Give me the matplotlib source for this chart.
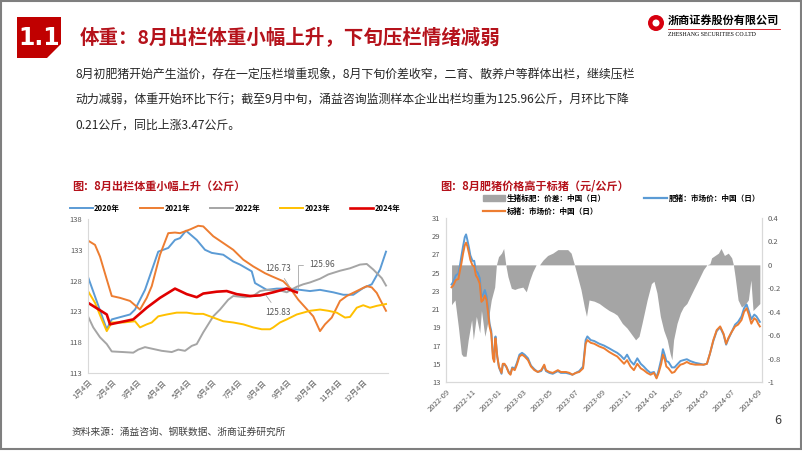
import numpy as np
import matplotlib
matplotlib.use('Agg')
import matplotlib.pyplot as plt
import matplotlib.dates as mdates
from matplotlib.patches import Polygon, Rectangle, Circle, Patch
from matplotlib.lines import Line2D
from matplotlib.ticker import FuncFormatter

plt.rcParams['font.family'] = ['Noto Sans CJK SC', 'DejaVu Sans']

RED = '#B5121B'
TICK_GRAY = '#595959'
AXIS_GRAY = '#D9D9D9'

# ---- left chart: weekly slaughter weight (kg), x = months after Jan 4 ----
month_labels = ['1月4日', '2月4日', '3月4日', '4月4日', '5月4日', '6月4日',
                '7月4日', '8月4日', '9月4日', '10月4日', '11月4日', '12月4日']

w2020_x = [0, 0.75, 0.95, 1.68, 1.88, 2.28, 2.81, 3.21, 3.48, 3.68, 3.92, 4.35, 4.68, 4.95,
           5.41, 5.81, 6.08, 6.55, 6.68, 7.15, 7.55, 8.08, 8.88, 9.28, 9.81, 10.21, 10.61,
           11.01, 11.35, 11.68, 11.92]
w2020_y = [128.6, 120.1, 121.7, 122.5, 123.3, 126.5, 132.7, 133.3, 134.6, 134.9, 136.1, 134.6,
           133.0, 132.5, 132.2, 131.1, 130.6, 129.5, 127.6, 126.5, 126.7, 126.7, 126.3, 126.5,
           126.1, 125.7, 125.7, 126.8, 127.4, 129.8, 132.7]

w2021_x = [0, 0.28, 0.48, 0.75, 0.95, 1.28, 1.68, 2.08, 2.35, 2.55, 2.88, 3.21, 3.48, 3.68,
           4.08, 4.41, 4.61, 5.01, 5.41, 5.81, 6.21, 6.61, 7.08, 7.35, 7.81, 8.08, 8.41, 9.01,
           9.28, 9.48, 9.75, 10.08, 10.35, 10.75, 11.15, 11.35, 11.55, 11.75, 11.92]
w2021_y = [134.5, 133.8, 131.9, 128.2, 125.5, 125.2, 124.7, 123.3, 125.2, 127.1, 132.2, 135.7,
           135.8, 135.7, 136.3, 136.9, 136.8, 135.2, 134.1, 133.0, 131.4, 130.3, 129.2, 128.7,
           127.9, 126.8, 124.9, 122.2, 119.8, 120.9, 122.0, 124.7, 125.5, 126.3, 127.1, 126.9,
           126.0, 124.4, 123.1]

w2022_x = [0, 0.21, 0.48, 0.75, 0.95, 1.41, 1.81, 2.01, 2.28, 2.61, 2.95, 3.35, 3.61, 3.88,
           4.15, 4.35, 4.61, 5.01, 5.28, 5.61, 5.81, 6.28, 6.61, 6.88, 7.15, 7.68, 7.95, 8.35,
           8.61, 8.88, 9.28, 9.61, 10.08, 10.48, 10.88, 11.15, 11.41, 11.75, 11.92]
w2022_y = [122.2, 120.4, 118.8, 117.7, 116.5, 116.4, 116.3, 116.8, 117.2, 116.9, 116.6, 116.4,
           116.8, 116.6, 117.4, 117.7, 119.6, 122.2, 123.3, 124.9, 125.5, 125.3, 125.5, 126.3,
           126.5, 126.4, 126.1, 127.0, 127.4, 127.7, 128.3, 129.0, 129.6, 130.0, 130.6, 130.7,
           129.8, 128.4, 127.2]

w2023_x = [0, 0.28, 0.55, 0.75, 0.95, 1.41, 1.88, 2.08, 2.35, 2.55, 2.81, 3.15, 3.55, 3.95,
           4.28, 4.61, 5.01, 5.41, 5.81, 6.21, 6.61, 6.95, 7.28, 7.41, 7.68, 7.95, 8.35, 8.88,
           9.28, 9.61, 9.95, 10.28, 10.48, 10.75, 11.01, 11.28, 11.55, 11.92]
w2023_y = [126.3, 124.4, 121.7, 119.8, 121.2, 121.2, 121.4, 120.4, 120.9, 121.2, 122.2, 122.5,
           122.8, 122.8, 122.6, 122.6, 122.0, 121.4, 121.2, 120.9, 120.4, 120.1, 120.1, 120.4,
           121.2, 121.7, 122.5, 123.1, 123.3, 123.1, 122.8, 122.0, 122.1, 123.6, 124.0, 123.6,
           123.9, 124.2]

w2024_x = [0, 0.75, 0.88, 1.81, 2.35, 2.88, 3.48, 3.95, 4.35, 4.61, 5.15, 5.55, 5.95, 6.48,
           6.88, 7.41, 7.95, 8.35]
w2024_y = [124.4, 122.5, 120.9, 121.7, 123.6, 125.2, 126.7, 125.8, 125.3, 125.9, 126.2, 126.3,
           125.8, 125.5, 125.6, 126.1, 126.7, 126.1]

# ---- right chart: daily prices (yuan/kg), days after 2022-09-01 ----
price_days = [13, 17, 23, 29, 33, 36, 40, 44, 47, 50, 54, 57, 62, 66, 70, 74, 79, 83, 87, 91,
              95, 99, 102, 106, 110, 113, 115, 116, 120, 124, 130, 133, 137, 141, 147, 151,
              155, 161, 166, 172, 178, 184, 192, 199, 207, 215, 223, 230, 234, 242, 250, 262,
              269, 281, 289, 296, 304, 312, 321, 327, 331, 339, 347, 359, 370, 382, 393, 401,
              409, 417, 424, 432, 440, 448, 456, 463, 471, 479, 487, 493, 498, 504, 508, 512,
              516, 521, 529, 535, 541, 549, 556, 564, 572, 584, 595, 603, 611, 618, 626, 634,
              642, 650, 656, 661, 669, 677, 684, 692, 698, 704, 709, 715, 722, 727, 731, 735]
standard_pig = [23.4, 23.6, 24.2, 24.3, 25.3, 26.0, 27.1, 28.0, 28.3, 27.9, 27.1, 26.4, 25.8,
                25.7, 24.7, 24.4, 23.8, 21.8, 22.0, 22.5, 22.0, 20.4, 19.1, 18.3, 15.6, 15.2,
                17.6, 17.8, 15.8, 14.7, 14.0, 15.0, 15.0, 14.7, 14.0, 13.8, 14.5, 14.3, 14.9,
                15.8, 16.0, 15.8, 15.4, 14.7, 14.3, 14.1, 14.3, 14.9, 14.3, 14.1, 14.0, 14.3,
                14.1, 14.1, 14.0, 13.8, 14.0, 14.1, 14.5, 17.2, 17.6, 17.3, 17.2, 16.9, 16.7,
                16.3, 16.0, 15.8, 15.4, 15.0, 15.4, 14.7, 14.3, 15.0, 14.5, 14.3, 14.0, 13.8,
                14.0, 13.4, 14.0, 15.0, 16.0, 15.5, 14.7, 14.5, 14.0, 14.1, 14.5, 14.9, 15.0,
                15.2, 15.0, 14.9, 14.9, 14.9, 15.0, 16.1, 17.6, 18.7, 19.1, 18.3, 17.2, 17.8,
                18.5, 19.1, 19.3, 19.8, 20.7, 21.1, 20.4, 19.4, 20.0, 19.8, 19.4, 19.1]
fat_pig = [23.7, 24.0, 24.7, 24.9, 25.9, 26.8, 27.9, 28.9, 29.2, 28.6, 27.7, 26.9, 26.3, 26.3,
           25.2, 25.0, 24.4, 22.3, 22.6, 23.1, 22.4, 20.8, 19.4, 18.6, 15.9, 15.4, 17.8, 18.0,
           15.8, 14.6, 13.9, 14.9, 14.9, 14.7, 14.1, 13.9, 14.6, 14.5, 15.1, 16.0, 16.2, 16.0,
           15.6, 14.8, 14.4, 14.1, 14.2, 14.8, 14.2, 14.0, 13.9, 14.2, 14.0, 14.0, 13.9, 13.8,
           14.0, 14.2, 14.7, 17.6, 18.0, 17.6, 17.5, 17.2, 17.0, 16.7, 16.4, 16.2, 15.9, 15.5,
           16.0, 15.3, 14.9, 15.6, 15.0, 14.7, 14.3, 14.0, 14.1, 13.5, 14.3, 15.5, 16.6, 16.0,
           15.3, 15.2, 14.6, 14.6, 14.9, 15.3, 15.4, 15.5, 15.3, 15.1, 15.0, 14.9, 15.0, 16.1,
           17.5, 18.6, 19.0, 18.2, 17.1, 17.7, 18.5, 19.3, 19.6, 20.2, 21.1, 21.5, 20.8, 19.9,
           20.4, 20.2, 19.9, 19.6]

spread_days = [13, 21, 29, 36, 40, 47, 52, 60, 64, 71, 79, 83, 91, 99, 106, 114, 118, 123,
               130, 135, 140, 145, 153, 161, 168, 180, 188, 196, 203, 211, 219, 227, 238, 250,
               262, 273, 285, 293, 300, 308, 316, 324, 329, 335, 347, 359, 370, 382, 393, 401,
               413, 424, 436, 444, 452, 459, 471, 481, 487, 494, 502, 510, 518, 525, 529, 533,
               541, 549, 556, 564, 572, 580, 587, 595, 603, 611, 618, 622, 630, 638, 644, 652,
               661, 669, 673, 677, 684, 692, 700, 708, 714, 719, 727, 735]
spread = [-0.34, -0.30, -0.53, -0.76, -0.78, -0.78, -0.64, -0.47, -0.64, -0.44, -0.58, -0.39,
          -0.61, -0.47, -0.30, -0.19, 0.0, 0.07, 0.10, 0.14, 0.0, -0.10, -0.20, -0.21, -0.20,
          -0.19, -0.23, -0.13, -0.06, 0.0, 0.0, 0.04, 0.08, 0.10, 0.13, 0.13, 0.13, 0.10,
          0.01, -0.10, -0.21, -0.36, -0.44, -0.30, -0.31, -0.33, -0.36, -0.39, -0.41, -0.43,
          -0.50, -0.54, -0.60, -0.64, -0.61, -0.50, -0.30, -0.16, -0.14, -0.24, -0.44, -0.56,
          -0.64, -0.76, -0.81, -0.64, -0.50, -0.41, -0.36, -0.33, -0.27, -0.21, -0.16, -0.10,
          -0.04, 0.0, 0.01, 0.06, 0.08, 0.10, 0.14, 0.08, 0.10, 0.06, 0.0, -0.10, -0.30,
          -0.36, -0.34, -0.30, -0.13, -0.39, -0.36, -0.33]

body_lines = ['8月初肥猪开始产生溢价，存在一定压栏增重现象，8月下旬价差收窄，二育、散养户等群体出栏，继续压栏',
              '动力减弱，体重开始环比下行；截至9月中旬，涌益咨询监测样本企业出栏均重为125.96公斤，月环比下降',
              '0.21公斤，同比上涨3.47公斤。']

W, H = 802, 451
fig = plt.figure(figsize=(W / 100, H / 100), dpi=100)

# page overlay in pixel coordinates
page = fig.add_axes([0, 0, 1, 1])
page.set_xlim(0, W)
page.set_ylim(H, 0)
page.axis('off')
page.add_patch(Rectangle((1, 1), W - 2, H - 3, fill=False, ec='#7F7F7F', lw=1.5))
page.add_patch(Polygon([(17, 17), (61, 17), (61, 44), (47, 58), (17, 58)], closed=True,
                       fc='#C00000', ec='none'))
page.text(39, 38, '1.1', color='white', fontsize=17, fontweight='bold', ha='center', va='center',
          family='DejaVu Sans')
page.text(80, 37, '体重：8月出栏体重小幅上升，下旬压栏情绪减弱', color=RED, fontsize=14,
          fontweight='bold', ha='left', va='center')
# logo
page.add_patch(Circle((656, 23), 8, fc='#D7000F', ec='none'))
page.add_patch(Circle((656, 23), 3.5, fc='white', ec='none'))
page.text(668, 20, '浙商证券股份有限公司', fontsize=8, fontweight='bold', ha='left', va='center')
page.plot([668, 780], [29, 29], color='#D7000F', lw=0.6)
page.text(668, 34, 'ZHESHANG SECURITIES CO.LTD', fontsize=4.2, ha='left', va='center',
          family='Liberation Serif')

for i, line in enumerate(body_lines):
    page.text(75, 75 + 25 * i, line, fontsize=8.6, color='#262626', ha='left', va='center')

page.text(72, 186, '图：8月出栏体重小幅上升（公斤）', color=RED, fontsize=8, fontweight='bold',
          ha='left', va='center')
page.text(440, 186, '图：8月肥猪价格高于标猪（元/公斤）', color=RED, fontsize=8, fontweight='bold',
          ha='left', va='center')
page.text(72, 432, '资料来源：涌益咨询、钢联数据、浙商证券研究所', fontsize=7, color='#404040',
          ha='left', va='center')
page.text(778, 421, '6', fontsize=9, color='#404040', ha='center', va='center')

# ---- left chart ----
ax = fig.add_axes([88 / W, 1 - 373 / H, 300 / W, 154 / H])
ax.plot(w2020_x, w2020_y, color='#5B9BD5', lw=1.4, label='2020年')
ax.plot(w2021_x, w2021_y, color='#ED7D31', lw=1.4, label='2021年')
ax.plot(w2022_x, w2022_y, color='#A5A5A5', lw=1.4, label='2022年')
ax.plot(w2023_x, w2023_y, color='#FFC000', lw=1.4, label='2023年')
ax.plot(w2024_x, w2024_y, color='#E00000', lw=1.9, label='2024年')
ax.set_xlim(0, 12)
ax.set_ylim(113, 138)
ax.set_yticks([113, 118, 123, 128, 133, 138])
ax.set_xticks(range(12))
ax.set_xticklabels(month_labels, rotation=45, ha='right', rotation_mode='anchor')
ax.tick_params(length=0, labelsize=5.5, colors=TICK_GRAY, pad=4)
for s in ['top', 'right']:
    ax.spines[s].set_visible(False)
for s in ['left', 'bottom']:
    ax.spines[s].set_color(AXIS_GRAY)
    ax.spines[s].set_linewidth(0.8)
ax.legend(loc='center', bbox_to_anchor=(0.49, 1.07), ncol=5, frameon=False,
          prop={'size': 5.5, 'weight': 'bold'}, handlelength=3, columnspacing=2.6,
          handletextpad=0.2)
arrow = dict(arrowstyle='-', color='#A6A6A6', lw=0.6)
ax.annotate('126.73', xy=(8.1, 126.8), xytext=(7.6, 129.9), fontsize=6, color=TICK_GRAY,
            ha='center', va='center', arrowprops=arrow)
ax.annotate('125.96', xy=(8.4, 126.3), xytext=(9.35, 130.6), fontsize=6, color=TICK_GRAY,
            ha='center', va='center',
            arrowprops=dict(arrowstyle='-', color='#A6A6A6', lw=0.6,
                            connectionstyle='angle,angleA=0,angleB=90,rad=0'))
ax.annotate('125.83', xy=(7.05, 126.0), xytext=(7.6, 122.9), fontsize=6, color=TICK_GRAY,
            ha='center', va='center', arrowprops=arrow)

# ---- right chart ----
start = np.datetime64('2022-09-01')
p_dates = start + np.array(price_days).astype('timedelta64[D]')
s_dates = start + np.array(spread_days).astype('timedelta64[D]')

axl = fig.add_axes([446 / W, 1 - 382 / H, 316 / W, 164 / H])
axr = axl.twinx()
axr.fill_between(s_dates, spread, 0, color='#A5A5A5', lw=0)
axl.plot(p_dates, fat_pig, color='#5B9BD5', lw=1.4)
axl.plot(p_dates, standard_pig, color='#ED7D31', lw=1.4)
axl.set_zorder(axr.get_zorder() + 1)
axl.patch.set_visible(False)

axl.set_xlim(np.datetime64('2022-09-01'), np.datetime64('2024-09-10'))
axl.set_ylim(13, 31)
axl.set_yticks(range(13, 32, 2))
axr.set_ylim(-1, 0.4)
axr.set_yticks([-1, -0.8, -0.6, -0.4, -0.2, 0, 0.2, 0.4])
axr.yaxis.set_major_formatter(FuncFormatter(lambda v, p: '%g' % round(v, 1)))
axl.xaxis.set_major_locator(mdates.MonthLocator(bymonth=[1, 3, 5, 7, 9, 11]))
axl.xaxis.set_major_formatter(mdates.DateFormatter('%Y-%m'))
plt.setp(axl.get_xticklabels(), rotation=45, ha='right', rotation_mode='anchor')
for a in (axl, axr):
    a.tick_params(length=0, labelsize=5.5, colors=TICK_GRAY, pad=4)
    a.spines['top'].set_visible(False)
    for s in ['left', 'right', 'bottom']:
        a.spines[s].set_color(AXIS_GRAY)
        a.spines[s].set_linewidth(0.8)

handles = [Patch(color='#A5A5A5'),
           Line2D([], [], color='#ED7D31', lw=1.6),
           Line2D([], [], color='#5B9BD5', lw=1.6)]
labels = ['生猪标肥：价差：中国（日）', '标猪：市场价：中国（日）', '肥猪：市场价：中国（日）']
axl.legend(handles, labels, loc='lower center', bbox_to_anchor=(0.555, 0.99), ncol=2,
           frameon=False, prop={'size': 5.5, 'weight': 'bold'}, handlelength=3,
           columnspacing=5, handletextpad=0.2, labelspacing=0.55, borderaxespad=0.1)

fig.savefig('out.png', dpi=100)
